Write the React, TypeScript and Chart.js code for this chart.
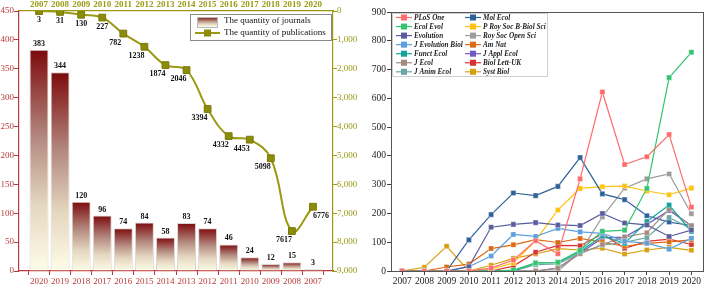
import React, { useEffect, useRef } from 'react';
import { Chart, registerables } from 'chart.js';

Chart.register(...registerables);

const SERIF = "'Times New Roman', 'Liberation Serif', serif";
const RED = '#b83a3a';
const OLIVE = '#9a9a14';

// ---------- Left panel data ----------
const journalYears = [2020, 2019, 2018, 2017, 2016, 2015, 2014, 2013, 2012, 2011, 2010, 2009, 2008, 2007];
const journalCounts = [383, 344, 120, 96, 74, 84, 58, 83, 74, 46, 24, 12, 15, 3];
const pubYears = [2007, 2008, 2009, 2010, 2011, 2012, 2013, 2014, 2015, 2016, 2017, 2018, 2019, 2020];
const pubCounts = [3, 31, 130, 227, 782, 1238, 1874, 2046, 3394, 4332, 4453, 5098, 7617, 6776];
const yearAxisMin = 2006.05;
const yearAxisMax = 2020.95;
const journalAxisMax = 450;
const journalAxisStep = 50;
const pubAxisMax = 9000;
const pubAxisStep = 1000;
const journalLegend = 'The quantity of journals';
const pubLegend = 'The quantity of publications';

// ---------- Right panel data ----------
const trendYears = ['2007', '2008', '2009', '2010', '2011', '2012', '2013', '2014', '2015', '2016', '2017', '2018', '2019', '2020'];
const plosOne = [0, 0, 0, 0, 10, 38, 105, 60, 320, 622, 370, 397, 474, 222];
const ecolEvol = [0, 0, 0, 0, 0, 3, 28, 30, 72, 138, 142, 287, 672, 760];
const evolution = [0, 0, 0, 15, 152, 162, 168, 160, 158, 200, 167, 160, 120, 142];
const jEvolutionBiol = [0, 0, 0, 15, 52, 127, 120, 148, 136, 131, 103, 97, 76, 114];
const functEcol = [0, 0, 0, 0, 0, 0, 28, 30, 68, 122, 96, 172, 229, 137];
const jEcol = [0, 0, 0, 0, 0, 0, 0, 10, 60, 92, 118, 133, 215, 156];
const jAnimEcol = [0, 0, 0, 0, 0, 0, 22, 25, 62, 90, 100, 116, 186, 146];
const molEcol = [0, 0, 0, 108, 196, 271, 262, 294, 394, 268, 248, 192, 170, 158];
const pRoySocB = [0, 0, 0, 0, 6, 28, 106, 212, 287, 293, 295, 278, 265, 288];
const roySocOpenSci = [0, 0, 0, 0, 0, 0, 0, 0, 66, 188, 288, 320, 337, 199];
const amNat = [0, 0, 14, 24, 78, 91, 109, 99, 113, 100, 86, 96, 101, 108];
const jApplEcol = [0, 0, 0, 0, 0, 0, 0, 10, 62, 115, 118, 162, 210, 158];
const biolLettUK = [0, 0, 0, 0, 0, 17, 65, 89, 88, 129, 79, 103, 111, 92];
const systBiol = [0, 13, 86, 0, 20, 44, 59, 78, 73, 79, 59, 73, 82, 72];
const trendMax = 900;
const trendStep = 100;

const trendNames = [
  'PLoS One', 'Ecol Evol', 'Evolution', 'J Evolution Biol', 'Funct Ecol', 'J Ecol', 'J Anim Ecol',
  'Mol Ecol', 'P Roy Soc B-Biol Sci', 'Roy Soc Open Sci', 'Am Nat', 'J Appl Ecol', 'Biol Lett-UK', 'Syst Biol',
];
const trendValues = [
  plosOne, ecolEvol, evolution, jEvolutionBiol, functEcol, jEcol, jAnimEcol,
  molEcol, pRoySocB, roySocOpenSci, amNat, jApplEcol, biolLettUK, systBiol,
];
const trendColors = [
  '#ff6b6b', '#33c46e', '#5a5c9e', '#5b9fdc', '#13a39a', '#a38a80', '#6aa6a4',
  '#2f6199', '#ffc20e', '#9c9c9c', '#dc6a12', '#7459c6', '#d83234', '#d7a010',
];

function barGradient(ctx: CanvasRenderingContext2D, top: number, bottom: number) {
  const g = ctx.createLinearGradient(0, top, 0, bottom);
  g.addColorStop(0, '#7c0a0c');
  g.addColorStop(0.4, '#b48a80');
  g.addColorStop(0.7, '#e4d6bf');
  g.addColorStop(1, '#fffde8');
  return g;
}

const leftOverlay = {
  id: 'leftOverlay',
  afterDatasetsDraw(chart: any) {
    const ctx: CanvasRenderingContext2D = chart.ctx;
    ctx.save();
    ctx.font = `bold 8px ${SERIF}`;
    ctx.fillStyle = '#111';
    ctx.textAlign = 'center';
    ctx.textBaseline = 'bottom';
    chart.getDatasetMeta(0).data.forEach((el: any, i: number) => {
      ctx.fillText(String(journalCounts[i]), el.x, el.y - 2);
    });
    ctx.textBaseline = 'top';
    const n = pubCounts.length;
    chart.getDatasetMeta(1).data.forEach((el: any, i: number) => {
      const dx = i < 4 ? 0 : i === n - 1 ? 8 : -8;
      ctx.fillText(String(pubCounts[i]), el.x + dx, el.y + 5);
    });
    // legend
    const bx = 190, by = 14, bw = 141, bh = 26;
    ctx.fillStyle = '#ffffff';
    ctx.fillRect(bx, by, bw, bh);
    ctx.strokeStyle = '#8a8a8a';
    ctx.lineWidth = 1;
    ctx.strokeRect(bx + 0.5, by + 0.5, bw, bh);
    ctx.fillStyle = barGradient(ctx, by + 3, by + 13);
    ctx.fillRect(197, by + 3, 20, 10);
    ctx.strokeStyle = '#bbb';
    ctx.strokeRect(197.5, by + 3.5, 20, 10);
    ctx.strokeStyle = OLIVE;
    ctx.lineWidth = 2;
    ctx.beginPath();
    ctx.moveTo(195, 33);
    ctx.lineTo(220, 33);
    ctx.stroke();
    ctx.fillStyle = '#8c8c0a';
    ctx.fillRect(204, 29.5, 7, 7);
    ctx.fillStyle = '#111';
    ctx.font = `9px ${SERIF}`;
    ctx.textAlign = 'left';
    ctx.textBaseline = 'middle';
    ctx.fillText(journalLegend, 224, 21);
    ctx.fillText(pubLegend, 224, 33);
    ctx.restore();
  },
};

const rightOverlay = {
  id: 'rightOverlay',
  afterDraw(chart: any) {
    const ctx: CanvasRenderingContext2D = chart.ctx;
    const a = chart.chartArea;
    ctx.save();
    ctx.strokeStyle = '#555';
    ctx.lineWidth = 1;
    ctx.strokeRect(Math.round(a.left) + 0.5, Math.round(a.top) + 0.5, Math.round(a.right - a.left), Math.round(a.bottom - a.top));
    const lx = 32, ly = 13, lw = 155, lh = 63;
    ctx.fillStyle = 'rgba(255,255,255,0.9)';
    ctx.fillRect(lx, ly, lw, lh);
    ctx.strokeStyle = '#cfcfcf';
    ctx.strokeRect(lx + 0.5, ly + 0.5, lw, lh);
    ctx.font = `italic bold 7.2px ${SERIF}`;
    ctx.textAlign = 'left';
    ctx.textBaseline = 'middle';
    trendNames.forEach((name, i) => {
      const col = i < 7 ? 0 : 1;
      const row = i % 7;
      const sx = col === 0 ? 36 : 105;
      const y = 17.5 + row * 9.05;
      ctx.strokeStyle = trendColors[i];
      ctx.lineWidth = 1.2;
      ctx.beginPath();
      ctx.moveTo(sx, y);
      ctx.lineTo(sx + 16, y);
      ctx.stroke();
      ctx.fillStyle = trendColors[i];
      ctx.fillRect(sx + 5, y - 3, 6, 6);
      ctx.fillStyle = '#222';
      ctx.fillText(name, sx + 18, y + 0.5);
    });
    ctx.restore();
  },
};

const yearTick = (v: any) => String(v);

function LeftChart() {
  const ref = useRef<HTMLCanvasElement>(null);
  useEffect(() => {
    if (!ref.current) return;
    const chart = new Chart(ref.current, {
      type: 'bar',
      data: {
        datasets: [
          {
            type: 'bar',
            label: journalLegend,
            data: journalYears.map((yr, i) => ({ x: yr, y: journalCounts[i] })),
            xAxisID: 'x',
            yAxisID: 'y',
            order: 1,
            grouped: false,
            barPercentage: 0.9,
            categoryPercentage: 1,
            borderColor: '#dcd6d0',
            borderWidth: 1,
            backgroundColor: (c: any) => {
              const ch = c.chart;
              if (!ch.chartArea || c.type !== 'data') return '#8b1a1a';
              const ys = ch.scales.y;
              const top = ys.getPixelForValue(c.raw.y);
              const bottom = ys.getPixelForValue(0);
              return barGradient(ch.ctx, top, bottom);
            },
          } as any,
          {
            type: 'line',
            label: pubLegend,
            data: pubYears.map((yr, i) => ({ x: yr, y: pubCounts[i] })),
            xAxisID: 'x2',
            yAxisID: 'y2',
            order: 0,
            borderColor: OLIVE,
            borderWidth: 2,
            tension: 0.4,
            pointStyle: 'rect',
            pointRadius: 4.8,
            pointBackgroundColor: '#8c8c0a',
            pointBorderColor: '#7a7a08',
            pointBorderWidth: 1,
            fill: false,
          } as any,
        ],
      },
      options: {
        responsive: false,
        animation: false,
        layout: { padding: 0 },
        plugins: { legend: { display: false }, tooltip: { enabled: false } },
        scales: {
          x: {
            type: 'linear',
            position: 'bottom',
            reverse: true,
            offset: false,
            min: yearAxisMin,
            max: yearAxisMax,
            grid: { offset: true, drawOnChartArea: false, color: RED, tickLength: 4 },
            border: { color: RED, width: 1.2 },
            ticks: { stepSize: 1, includeBounds: false, callback: yearTick, color: RED, font: { family: SERIF, size: 9 }, padding: 1, maxRotation: 0, autoSkip: false },
            afterFit: (s: any) => { s.height = 16; },
          },
          x2: {
            type: 'linear',
            position: 'top',
            offset: false,
            min: yearAxisMin,
            max: yearAxisMax,
            grid: { offset: false, drawOnChartArea: false, drawTicks: false, color: OLIVE },
            border: { color: OLIVE, width: 1.2 },
            ticks: { stepSize: 1, includeBounds: false, callback: yearTick, color: OLIVE, font: { family: SERIF, size: 9, weight: 'bold' }, padding: 1, maxRotation: 0, autoSkip: false },
            afterFit: (s: any) => { s.height = 11; },
          },
          y: {
            position: 'left',
            min: 0,
            max: journalAxisMax,
            grid: { drawOnChartArea: false, color: RED, tickLength: 5 },
            border: { color: RED, width: 1.2 },
            ticks: { stepSize: journalAxisStep, color: RED, font: { family: SERIF, size: 9 }, padding: 0 },
            afterFit: (s: any) => { s.width = 19; },
          },
          y2: {
            position: 'right',
            reverse: true,
            min: 0,
            max: pubAxisMax,
            grid: { drawOnChartArea: false, color: OLIVE, tickLength: 4 },
            border: { color: OLIVE, width: 1.2 },
            ticks: { stepSize: pubAxisStep, color: OLIVE, font: { family: SERIF, size: 9 }, padding: 0 },
            afterFit: (s: any) => { s.width = 27; },
          },
        },
      } as any,
      plugins: [leftOverlay],
    });
    return () => chart.destroy();
  }, []);
  return <canvas ref={ref} width={360} height={287} style={{ display: 'block', width: 360, height: 287 }} />;
}

function RightChart() {
  const ref = useRef<HTMLCanvasElement>(null);
  useEffect(() => {
    if (!ref.current) return;
    const chart = new Chart(ref.current, {
      type: 'line',
      data: {
        labels: trendYears,
        datasets: trendNames.map((name, i) => ({
          label: name,
          data: trendValues[i],
          borderColor: trendColors[i],
          backgroundColor: trendColors[i],
          borderWidth: 1.2,
          tension: 0,
          pointStyle: 'rect',
          pointRadius: 3.6,
          pointBackgroundColor: trendColors[i],
          pointBorderColor: 'rgba(255,255,255,0.7)',
          pointBorderWidth: 0.5,
          fill: false,
        })),
      },
      options: {
        responsive: false,
        animation: false,
        layout: { padding: { top: 12, right: 2, left: 0, bottom: 0 } },
        plugins: { legend: { display: false }, tooltip: { enabled: false } },
        scales: {
          x: {
            offset: true,
            grid: { drawOnChartArea: false, color: '#444', tickLength: 4 },
            border: { color: '#555' },
            ticks: { color: '#222', font: { family: SERIF, size: 9.5 }, padding: 1, maxRotation: 0, autoSkip: false },
            afterFit: (s: any) => { s.height = 16; },
          },
          y: {
            min: 0,
            max: trendMax,
            grid: { drawOnChartArea: false, color: '#444', tickLength: 4 },
            border: { color: '#555' },
            ticks: { stepSize: trendStep, color: '#222', font: { family: SERIF, size: 9.5 }, padding: 1 },
            afterFit: (s: any) => { s.width = 31; },
          },
        },
      } as any,
      plugins: [rightOverlay],
    });
    return () => chart.destroy();
  }, []);
  return <canvas ref={ref} width={347} height={287} style={{ display: 'block', width: 347, height: 287 }} />;
}

export default function App() {
  return (
    <div style={{ position: 'absolute', left: 0, top: 0, width: 707, height: 287, display: 'flex', background: '#fff' }}>
      <LeftChart />
      <RightChart />
    </div>
  );
}
